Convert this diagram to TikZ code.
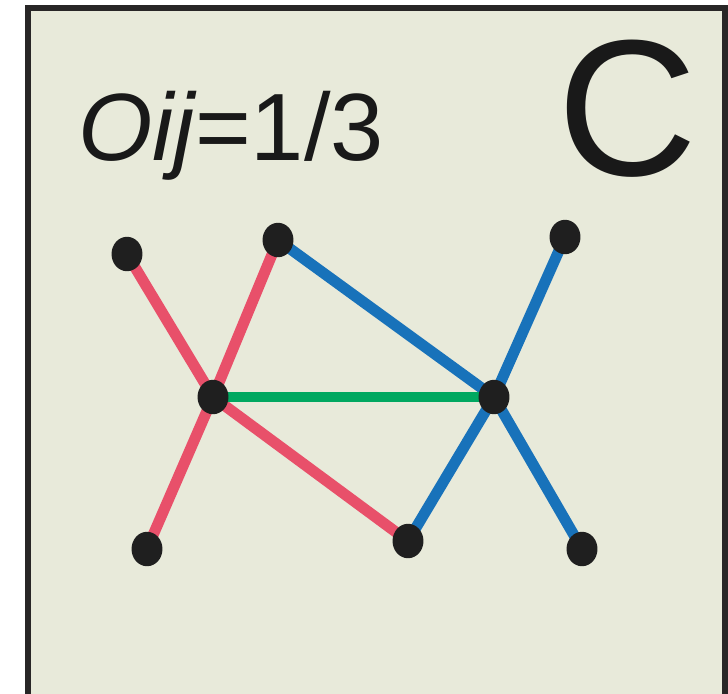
\documentclass[tikz,border=0pt]{standalone}
\usepackage{fontspec}
\setmainfont{Liberation Sans}
\usetikzlibrary{shapes.geometric}
\pgfdeclarelayer{background}
\pgfdeclarelayer{edges}
\pgfsetlayers{background,edges,main}
\definecolor{panelbg}{RGB}{232,234,218}
\definecolor{panelframe}{RGB}{40,38,38}
\definecolor{linkred}{RGB}{232,80,106}
\definecolor{linkblue}{RGB}{24,114,186}
\definecolor{linkgreen}{RGB}{0,168,96}
\tikzset{
    vtx/.style={ellipse, fill=black!88, minimum width=22pt, minimum height=24.5pt, inner sep=0pt},
    redlink/.style={line width=7.8pt, color=linkred},
    bluelink/.style={line width=7.8pt, color=linkblue},
    greenlink/.style={line width=7.8pt, color=linkgreen},
    paneltext/.style={inner sep=0pt, text=black!90}
}
\begin{document}
\begin{tikzpicture}[x=0.025cm, y=-0.025cm]
    \useasboundingbox (0,0) rectangle (728,693);
    \begin{pgfonlayer}{background}
    \draw[panelframe, fill=panelbg, line width=3.6pt] (28,8) rectangle (725,705);
    \end{pgfonlayer}
    \node[paneltext, anchor=base west, font=\fontsize{68}{80}\selectfont] (score) at (78,160) {\itshape Oij\upshape =1/3};
    \node[paneltext, anchor=base, font=\fontsize{138}{160}\selectfont] (tag) at (628,175) {C};
    \node[vtx] (a) at (127,254) {};
    \node[vtx] (b) at (278,240) {};
    \node[vtx] (c) at (565,237) {};
    \node[vtx] (d) at (213,397) {};
    \node[vtx] (e) at (494,397) {};
    \node[vtx] (f) at (147,549) {};
    \node[vtx] (g) at (408,541) {};
    \node[vtx] (h) at (582,549) {};
    \begin{pgfonlayer}{edges}
    \draw[redlink] (a.center) -- (d.center);
    \draw[redlink] (b.center) -- (d.center);
    \draw[redlink] (d.center) -- (f.center);
    \draw[redlink] (d.center) -- (g.center);
    \draw[bluelink] (b.center) -- (e.center);
    \draw[bluelink] (c.center) -- (e.center);
    \draw[bluelink] (e.center) -- (g.center);
    \draw[bluelink] (e.center) -- (h.center);
    \draw[greenlink] (d.center) -- (e.center);
    \end{pgfonlayer}
\end{tikzpicture}
\end{document}
